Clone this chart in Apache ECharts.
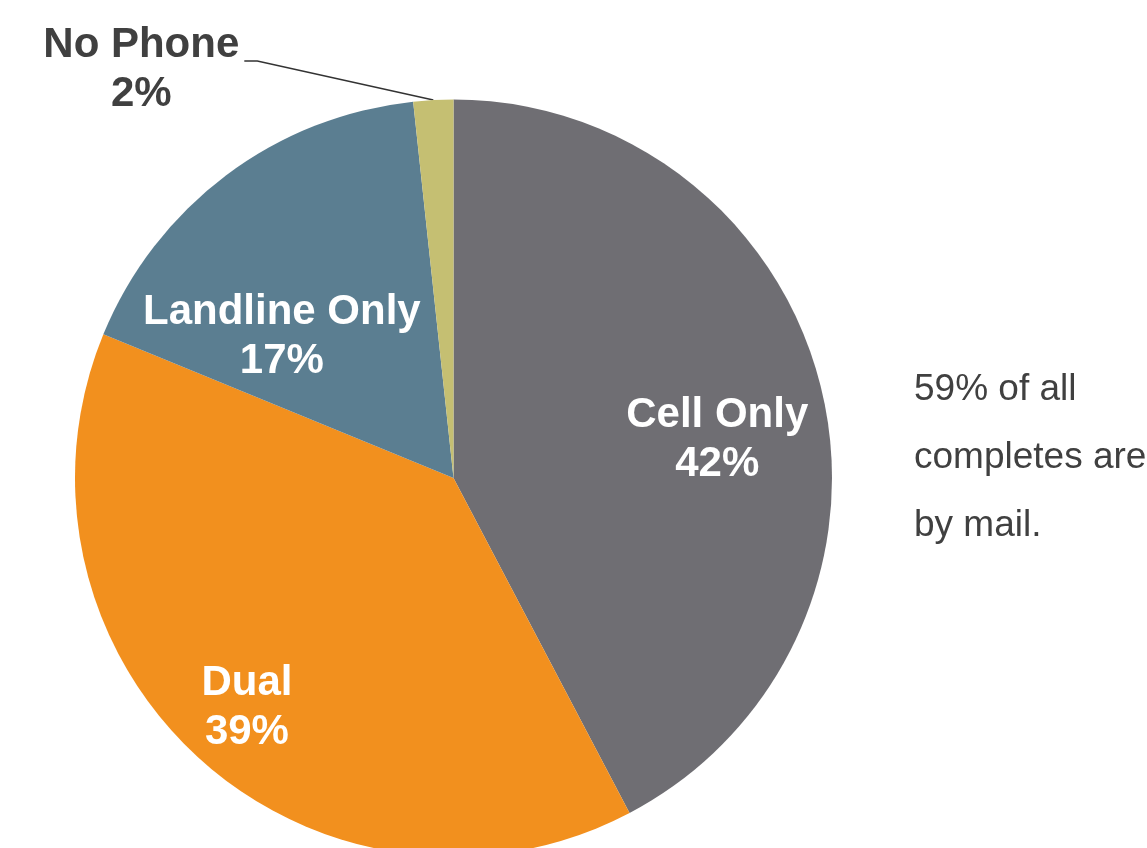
<!DOCTYPE html>
<html>
<head>
<meta charset="utf-8">
<script src="https://cdn.jsdelivr.net/npm/echarts@6/dist/echarts.min.js"></script>
<style>
html,body{margin:0;padding:0;background:#fff;}
#c{width:1147px;height:848px;}
</style>
</head>
<body>
<div id="c"></div>
<script>
// Data
const categories = ['Cell Only', 'Dual', 'Landline Only', 'No Phone'];
const shares = [42.3, 38.9, 17.1, 1.7];
const noteLines = ['59% of all', 'completes are', 'by mail.'];

// Styles
const colors = ['#6f6e73', '#f2901e', '#5b7e91', '#c5bf72'];
const labelPlace = [[0.705, 5.1], [0.811, 0], [0.592, -13.1], null]; // [radius fraction, angle offset deg]
const FONT = '"Liberation Sans", Arial, sans-serif';
const DARK = '#404040';
const TEXT_NUDGE = 3;

const chart = echarts.init(document.getElementById('c'), null, {renderer: 'canvas'});

function buildOption(layoutFn) {
  return {
    animation: false,
    backgroundColor: '#ffffff',
    graphic: [{
      type: 'text',
      left: 914,
      top: 356,
      style: {
        text: noteLines.join('\n'),
        font: '37px ' + FONT,
        fill: DARK,
        lineHeight: 68
      }
    }],
    series: [{
      type: 'pie',
      center: [453.5, 478],
      radius: 378.5,
      startAngle: 90,
      clockwise: true,
      avoidLabelOverlap: false,
      itemStyle: {borderWidth: 0},
      emphasis: {disabled: true},
      label: {
        show: true,
        position: 'inside',
        formatter: p => p.name + '\n' + Math.round(p.value) + '%',
        color: '#ffffff',
        fontFamily: FONT,
        fontWeight: 'bold',
        fontSize: 42,
        lineHeight: 49,
        align: 'center'
      },
      labelLine: {show: false},
      labelLayout: layoutFn,
      data: categories.map((name, i) => {
        const d = {name: name, value: shares[i], itemStyle: {color: colors[i]}};
        if (!labelPlace[i]) {
          d.label = {position: 'outside', color: DARK, align: 'center'};
          d.labelLine = {show: true, length: 20, length2: 10, lineStyle: {color: '#333333', width: 1.5}};
        }
        return d;
      })
    }]
  };
}

chart.setOption(buildOption(null));

const data = chart.getModel().getSeriesByIndex(0).getData();
const targets = [];
for (let i = 0; i < data.count(); i++) {
  const L = data.getItemLayout(i);
  const mid = (L.startAngle + L.endAngle) / 2;
  if (labelPlace[i]) {
    const a = mid + labelPlace[i][1] * Math.PI / 180;
    const rr = L.r * labelPlace[i][0];
    targets.push({x: L.cx + rr * Math.cos(a), y: L.cy + rr * Math.sin(a) + TEXT_NUDGE});
  } else {
    const p0 = [L.cx + L.r * Math.cos(mid), L.cy + L.r * Math.sin(mid)];
    const p1 = [p0[0] - 176, p0[1] - 39];
    const p2 = [p1[0] - 13, p1[1]];
    targets.push({x: p0[0] - 292, y: p0[1] - 33 + TEXT_NUDGE, line: [p0, p1, p2]});
  }
}

chart.setOption(buildOption(function (params) {
  const t = targets[params.dataIndex];
  const out = {x: t.x, y: t.y, align: 'center', verticalAlign: 'middle'};
  if (t.line) out.labelLinePoints = t.line;
  return out;
}));
</script>
</body>
</html>
